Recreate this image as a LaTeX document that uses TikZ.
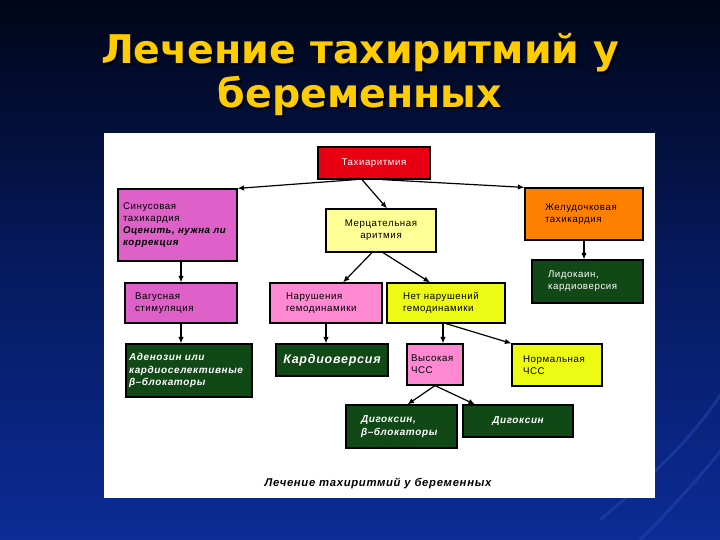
\documentclass[tikz,border=0pt]{standalone}
\usepackage{fontspec}
\setmainfont{Liberation Sans}[LetterSpace=6]
\newfontfamily\titlefont{DejaVu Sans}
\usetikzlibrary{arrows.meta}
\definecolor{cbgtop}{RGB}{0,6,24}
\definecolor{cbgmid}{RGB}{6,26,95}
\definecolor{cbgbot}{RGB}{12,44,150}
\definecolor{ctitle}{RGB}{255,204,0}
\definecolor{cred}{RGB}{232,0,18}
\definecolor{cmag}{RGB}{222,96,200}
\definecolor{cpink}{RGB}{255,136,210}
\definecolor{clyel}{RGB}{255,255,150}
\definecolor{cyel}{RGB}{236,250,20}
\definecolor{corange}{RGB}{255,128,0}
\definecolor{cgreen}{RGB}{16,72,22}
\definecolor{cswirl}{RGB}{40,75,180}
\newcommand{\mytshadow}[1]{\makebox[0pt][l]{\hspace{2pt}\raisebox{-2pt}{\textcolor{black}{#1}}}#1}
\tikzset{
  box/.style={draw=black, line width=1.2pt, align=left, inner ysep=0pt,
    font=\fontsize{9.7}{12.2}\selectfont},
  gbox/.style={box, fill=cgreen, text=white,
    font=\fontsize{10}{12.4}\selectfont\bfseries\itshape},
  arr/.style={-{Latex[length=6.5pt,width=5.5pt]}, line width=1.2pt},
  ttl/.style={font=\titlefont\bfseries\fontsize{39.5}{45}\selectfont, anchor=base, text=ctitle},
  swirl/.style={draw=cswirl, line width=3pt, opacity=0.45}
}
\begin{document}
\begin{tikzpicture}[x=1pt,y=-1pt]
\useasboundingbox (0,0) rectangle (720,540);
\shade[top color=cbgtop, bottom color=cbgbot, middle color=cbgmid] (0,0) rectangle (720,540);
\draw[swirl] (600,520) .. controls (660,470) and (700,430) .. (730,380);
\draw[swirl] (640,540) .. controls (680,500) and (705,470) .. (730,440);
% title
\node[ttl] (t1) at (360,64) {\mytshadow{Лечение тахиритмий у}};
\node[ttl] (t2) at (360,108) {\mytshadow{беременных}};
% panel
\fill[white] (104,133) rectangle (655,498);
% boxes
\node[box, fill=cred, text=white, minimum width=112pt, minimum height=32pt, align=center] (tach) at (374,163) {Тахиаритмия};
\node[box, fill=cmag, minimum height=72pt, text width=109pt, inner xsep=5pt] (sin) at (177.5,225)
  {Синусовая\\тахикардия\\\textbf{\textit{Оценить, нужна ли}}\\\textbf{\textit{коррекция}}};
\node[box, fill=clyel, minimum width=110pt, minimum height=43pt, align=center] (mer) at (381,230.5) {Мерцательная\\аритмия};
\node[box, fill=corange, minimum height=52pt, text width=78pt, inner xsep=20pt] (orn) at (584,214) {Желудочковая\\тахикардия};
\node[box, fill=cmag, minimum height=40pt, text width=92pt, inner xsep=10pt] (vag) at (181,303) {Вагусная\\стимуляция};
\node[box, fill=cpink, minimum height=40pt, text width=80pt, inner xsep=16pt] (nar) at (326,303) {Нарушения\\гемодинамики};
\node[box, fill=cyel, minimum height=40pt, text width=86pt, inner xsep=16pt] (net) at (446,303) {Нет нарушений\\гемодинамики};
\node[box, fill=cgreen, text=white, minimum height=43pt, text width=79pt, inner xsep=16pt] (lido) at (587.5,281.5) {Лидокаин,\\кардиоверсия};
\node[gbox, minimum height=53pt, text width=120pt, inner xsep=3pt] (aden) at (189,370.5) {Аденозин или\\кардиоселективные\\β–блокаторы};
\node[gbox, minimum width=112pt, minimum height=32pt, align=center, font=\fontsize{12.5}{14}\selectfont\bfseries\itshape] (kard) at (332,360) {Кардиоверсия};
\node[box, fill=cpink, minimum height=41pt, text width=48pt, inner xsep=4pt] (vys) at (435,364.5) {Высокая\\ЧСС};
\node[box, fill=cyel, minimum height=42pt, text width=68pt, inner xsep=11pt] (norm) at (557,365) {Нормальная\\ЧСС};
\node[gbox, minimum height=43pt, text width=81pt, inner xsep=15pt] (dig1) at (401.5,426.5) {Дигоксин,\\β–блокаторы};
\node[gbox, minimum width=110pt, minimum height=32pt, align=center] (dig2) at (518,421) {Дигоксин};
% caption
\node[font=\fontsize{11.3}{13}\selectfont\bfseries\itshape] (cap) at (378,483) {Лечение тахиритмий у беременных};
% connectors
\draw[arr] ([xshift=-18pt]tach.south) -- (sin.north east);
\draw[arr] ([xshift=8pt]tach.south) -- (orn.north west);
\draw[arr] ([xshift=-12pt]tach.south) -- ([xshift=6pt]mer.north);
\draw[arr] (vag.north |- sin.south) -- (vag.north);
\draw[arr] (vag.south) -- (vag.south |- aden.north);
\draw[arr] (orn.south) -- (orn.south |- lido.north);
\draw[arr] ([xshift=-9pt]mer.south) -- ([xshift=17pt]nar.north);
\draw[arr] ([xshift=2pt]mer.south) -- ([xshift=-16pt]net.north);
\draw[arr] (nar.south) -- (nar.south |- kard.north);
\draw[arr] ([xshift=-3pt]net.south) -- ([xshift=-3pt]net.south |- vys.north);
\draw[arr] (net.south) -- (norm.north west);
\draw[arr] (vys.south) -- ([xshift=6pt]dig1.north);
\draw[arr] (vys.south) -- ([xshift=-43pt]dig2.north);
\end{tikzpicture}
\end{document}
